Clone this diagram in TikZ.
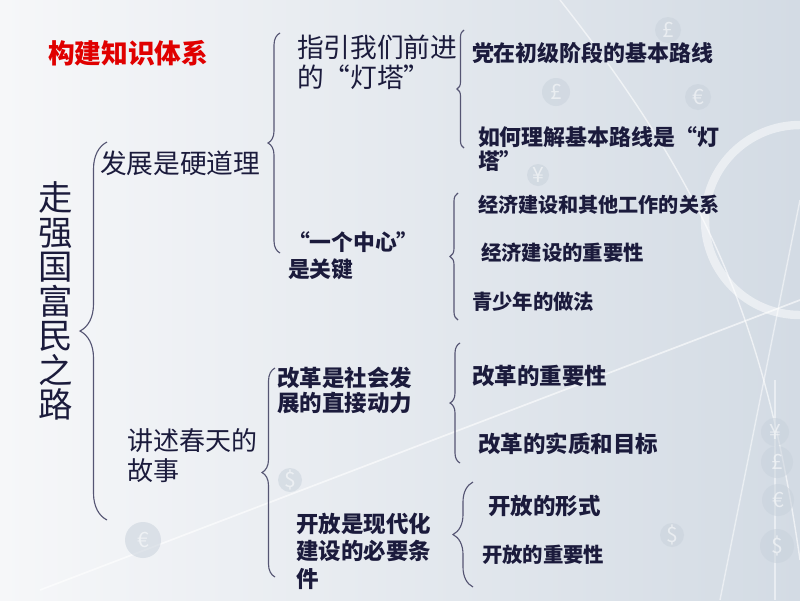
\documentclass[tikz,border=0pt]{standalone}
\usepackage{fontspec}
\newfontfamily\cjk{Noto Sans CJK SC}
\usetikzlibrary{decorations.pathreplacing}

\definecolor{ink}{HTML}{1B1B3C}
\definecolor{bracegray}{HTML}{555573}
\definecolor{bgleft}{HTML}{F6F7F9}
\definecolor{bgright}{HTML}{D3DBE4}
\definecolor{coin}{HTML}{C9D2DC}
\definecolor{headred}{HTML}{E00000}

\newcommand{\fsz}[2]{\fontsize{#1}{#2}\selectfont}

\begin{document}
\begin{tikzpicture}[
            x = 0.025cm, y = -0.025cm,
            every node/.style={inner sep=0pt, outer sep=0pt, text=ink},
            item/.style={anchor=west, align=left, font=\cjk\bfseries\fsz{#1}{#1}},
            item/.default=16,
            big/.style={anchor=west, align=left, font=\cjk\fsz{#1}{21.3}},
            bracket/.style={draw=bracegray, line width=.8pt, decorate, decoration={brace, amplitude=#1*0.025cm}},
            coinmark/.style={circle, fill=coin, opacity=.55, text=white, font=\cjk\fsz{15}{15}, minimum size=#1*0.025cm},
            ]
        
        % background
        \useasboundingbox (0,0) rectangle (800,600);
        \shade[left color=bgleft, right color=bgright] (0,0) rectangle (800,600);
        \draw[white, line width=1.2pt, opacity=.6] (40,590) -- (800,300);
        \draw[white, line width=1pt, opacity=.6] (560,0) to[bend left=15] (800,560);
        \draw[white, line width=1pt, opacity=.5] (720,600) -- (800,200);
        \draw[white, line width=1pt, opacity=.5] (775,600) -- (775,380);
        \draw[white, line width=6pt, opacity=.5] (800,220) circle (95);
        \node[coinmark=26] (c1) at (668,30) {£};
        \node[coinmark=28] (c2) at (556,92) {£};
        \node[coinmark=26] (c3) at (698,97) {€};
        \node[coinmark=22] (c11) at (538,175) {¥};
        \node[coinmark=28] (c4) at (775,432) {¥};
        \node[coinmark=32] (c5) at (777,462) {£};
        \node[coinmark=32] (c6) at (778,500) {€};
        \node[coinmark=34] (c7) at (777,546) {\$};
        \node[coinmark=24] (c8) at (672,535) {\$};
        \node[coinmark=36] (c9) at (143,540) {€};
        \node[coinmark=24] (c10) at (290,480) {\$};
        
        % title
        \node[anchor=west, font=\cjk\bfseries\fsz{19}{19}, text=headred] (kjzs) at (48,53) {构建知识体系};
        \node[align=center, font=\cjk\fsz{24.5}{24.5}] (zqgf) at (56,301) {走\\强\\国\\富\\民\\之\\路};
        
        % first branch
        \node[big=19] (fzsy) at (100,163) {发展是硬道理};
        \node[big=19] (zywm) at (297,62) {指引我们前进\\的“灯塔”};
        \node[font=\cjk\bfseries\fsz{15.5}{19}, anchor=west, align=left] (ygzx) at (288,256) {“一个中心”\\是关键};
        \node[item=15.6] (dzcj) at (472,53) {党在初级阶段的基本路线};
        \node[font=\cjk\bfseries\fsz{15.6}{17.7}, anchor=west, align=left] (rhlj) at (478,149) {如何理解基本路线是“灯\\塔”};
        \node[item=14.3] (jjgx) at (478,205) {经济建设和其他工作的关系};
        \node[item=14.5] (jjzy) at (481,253) {经济建设的重要性};
        \node[item=14.5] (qsnz) at (472,302) {青少年的做法};
        
        % second branch
        \node[font=\cjk\fsz{18.5}{21.3}, anchor=west, align=left] (jsct) at (127,456) {讲述春天的\\故事};
        \node[font=\cjk\bfseries\fsz{16}{17.7}, anchor=west, align=left] (ggsh) at (277,390) {改革是社会发\\展的直接动力};
        \node[font=\cjk\bfseries\fsz{16}{19.5}, anchor=west, align=left] (kfxd) at (296,551) {开放是现代化\\建设的必要条\\件};
        \node[item=16] (ggzy) at (472,376) {改革的重要性};
        \node[item=16] (ggsz) at (478,444) {改革的实质和目标};
        \node[item=16] (kfxs) at (488,506) {开放的形式};
        \node[item=14.5] (kfzx) at (482,555) {开放的重要性};
        
        % braces
        \draw[bracket=27] (107,520) -- (107,142);
        \draw[bracket=12] (280,253) -- (280,33);
        \draw[bracket=7] (464,148) -- (464,30);
        \draw[bracket=8] (458,320) -- (458,193);
        \draw[bracket=13] (275,577) -- (275,368);
        \draw[bracket=10] (460,463) -- (460,343);
        \draw[bracket=20] (473,587) -- (473,482);
    \end{tikzpicture}
\end{document}
